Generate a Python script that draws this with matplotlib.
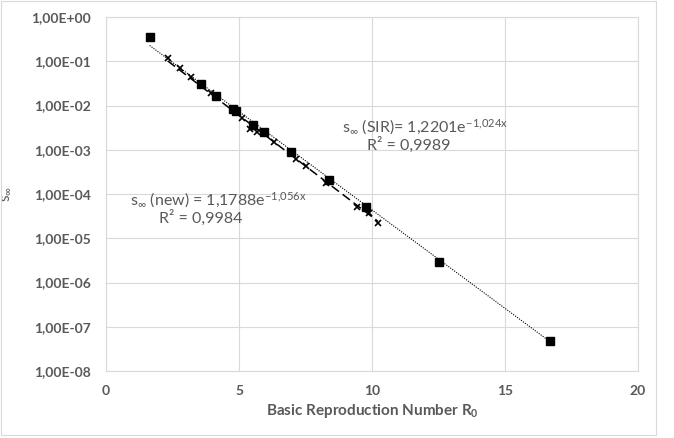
import matplotlib
matplotlib.use("Agg")
import matplotlib.pyplot as plt
import matplotlib.patches as mpatches
import numpy as np
from matplotlib.ticker import FuncFormatter, LogLocator, NullLocator

plt.rcParams["font.family"] = ["Lato", "DejaVu Sans"]
plt.rcParams["mathtext.fontset"] = "custom"
plt.rcParams["mathtext.rm"] = "Lato"
plt.rcParams["mathtext.it"] = "Lato:italic"
plt.rcParams["mathtext.bf"] = "Lato:bold"

# SIR model: final susceptible fraction vs R0
sir_r0 = [1.64, 3.59, 4.15, 4.78, 4.90, 5.53, 5.94, 6.95, 8.37, 9.76, 12.52, 16.70]
sir_s = [0.35, 0.030, 0.016, 0.0082, 0.0074, 0.0037, 0.0025, 8.7e-4, 2.1e-4, 5.1e-5, 2.9e-6, 4.8e-8]

# new model
new_r0 = [2.32, 2.77, 3.18, 3.93, 5.13, 5.43, 5.66, 6.33, 7.15, 7.53, 8.28, 9.44, 9.89, 10.22]
new_s = [0.117, 0.069, 0.044, 0.019, 0.0051, 0.0030, 0.0025, 0.0015, 6.3e-4, 4.2e-4,
         1.8e-4, 5.1e-5, 3.8e-5, 2.2e-5]

# exponential trendline coefficients shown on the chart
sir_a, sir_b, sir_r2 = 1.2201, 1.024, 0.9989
new_a, new_b, new_r2 = 1.1788, 1.056, 0.9984

GREY = "#595959"
GRID = "#d9d9d9"

fig = plt.figure(figsize=(6.74, 4.38), dpi=100)
ax = fig.add_axes([106 / 674, 67 / 438, 532 / 674, 354 / 438])

# chart area border
fig.patches.append(mpatches.Rectangle((1 / 674, 3 / 438), 655 / 674, 434 / 438,
                                      transform=fig.transFigure, fill=False,
                                      edgecolor=GRID, linewidth=0.8))

xs = np.linspace(min(sir_r0), max(sir_r0), 200)
ax.plot(xs, sir_a * np.exp(-sir_b * xs), color="black", linestyle=(0, (1, 1.2)),
        linewidth=0.8, zorder=3)
xn = np.linspace(min(new_r0), max(new_r0), 200)
ax.plot(xn, new_a * np.exp(-new_b * xn), color="black", linestyle=(0, (6, 3)),
        linewidth=1.1, zorder=3)

ax.plot(sir_r0, sir_s, linestyle="none", marker="s", markersize=5.8,
        color="black", zorder=4)
ax.plot(new_r0, new_s, linestyle="none", marker="x", markersize=4.5,
        markeredgewidth=1.2, color="black", zorder=4)

ax.set_yscale("log")
ax.set_xlim(0, 20)
ax.set_ylim(1e-8, 1)
ax.set_xticks([0, 5, 10, 15, 20])
ax.yaxis.set_major_locator(LogLocator(base=10, numticks=20))
ax.yaxis.set_minor_locator(NullLocator())
ax.yaxis.set_major_formatter(FuncFormatter(lambda v, p: f"{v:.2E}".replace(".", ",")))

ax.grid(True, color=GRID, linewidth=0.8)
ax.set_axisbelow(True)
for s in ax.spines.values():
    s.set_color(GRID)
    s.set_linewidth(0.8)
ax.tick_params(length=0, labelcolor=GREY, labelsize=10)
ax.tick_params(axis="x", pad=10)
ax.tick_params(axis="y", pad=11)
for lab in ax.get_xticklabels() + ax.get_yticklabels():
    lab.set_fontweight("bold")

ax.set_xlabel(r"Basic Reproduction Number R$_{\mathbf{0}}$", color=GREY,
              fontsize=11, fontweight="bold", labelpad=4)
ax.set_ylabel(r"s$_\infty$", color=GREY, fontsize=11, labelpad=4)
ax.yaxis.set_label_coords(-0.175, 0.5)

txt = dict(transform=ax.transAxes, color=GREY, fontsize=11.5, ha="center", va="center")
ax.text(0.600, 0.689, r"s$_\infty$ (SIR)= 1,2201e$^{\mathregular{-1{,}024x}}$", **txt)
ax.text(0.570, 0.638, f"R² = {sir_r2:.4f}".replace(".", ","), **txt)
ax.text(0.212, 0.483, r"s$_\infty$ (new) = 1,1788e$^{\mathregular{-1{,}056x}}$", **txt)
ax.text(0.179, 0.432, f"R² = {new_r2:.4f}".replace(".", ","), **txt)

fig.savefig("out.png", dpi=100)
